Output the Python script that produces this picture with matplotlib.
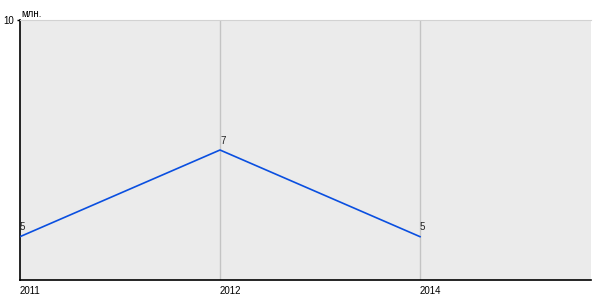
import matplotlib.pyplot as plt

plt.rcParams['font.family'] = ['Liberation Sans', 'DejaVu Sans']

years = ['2011', '2012', '2014']
values = [5, 7, 5]
unit = 'млн.'

fig = plt.figure(figsize=(6, 3), dpi=100)
ax = fig.add_axes([20 / 600, 20 / 300, 571 / 600, 260 / 300])
ax.set_facecolor('#ebebeb')

pos = list(range(len(years)))
ax.plot(pos, values, color='#0a4fe0', linewidth=1.2, zorder=3)
for x, v in zip(pos, values):
    ax.annotate(str(v), (x, v), xytext=(0, 3), textcoords='offset points',
                ha='left', va='bottom', fontsize=7, color='#222222')

ax.set_xlim(0, 2.855)
ax.set_ylim(4, 10)
ax.set_xticks(pos)
ax.set_xticklabels(years, fontsize=7, ha='left')
ax.set_yticks([10])
ax.set_yticklabels(['10'], fontsize=7)
ax.tick_params(axis='x', length=0, pad=4)
ax.tick_params(axis='y', length=2.5, width=1, pad=1.5)

for x in pos[1:]:
    ax.axvline(x, color='#c4c4c4', linewidth=1, zorder=1)

ax.spines['right'].set_visible(False)
ax.spines['top'].set_color('#d2d2d2')
ax.spines['left'].set_color('black')
ax.spines['bottom'].set_color('black')
ax.spines['left'].set_linewidth(1.2)
ax.spines['bottom'].set_linewidth(1.2)

ax.text(0.002, 1.004, unit, transform=ax.transAxes, fontsize=7, ha='left', va='bottom')

fig.savefig('out.png', dpi=100)
